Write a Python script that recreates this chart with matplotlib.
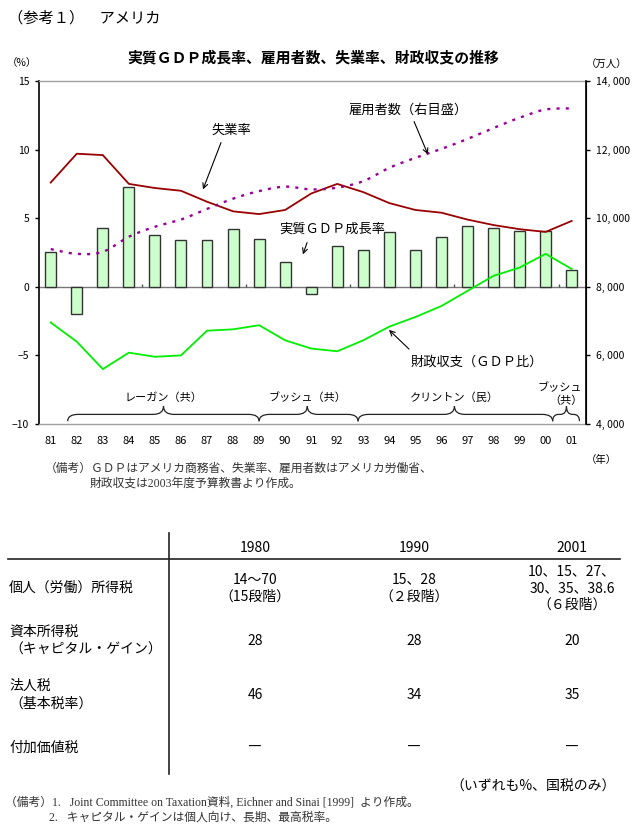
import numpy as np
import matplotlib
matplotlib.use('Agg')
import matplotlib.pyplot as plt
from matplotlib.lines import Line2D
from matplotlib.path import Path
from matplotlib.patches import PathPatch
from matplotlib.ticker import FuncFormatter

plt.rcParams['font.family'] = ['Noto Sans CJK JP', 'DejaVu Sans']

# ---------------- data ----------------
years = ['81', '82', '83', '84', '85', '86', '87', '88', '89', '90', '91',
         '92', '93', '94', '95', '96', '97', '98', '99', '00', '01']
gdp_growth = [2.5, -2.0, 4.3, 7.3, 3.8, 3.4, 3.4, 4.2, 3.5, 1.8, -0.5,
              3.0, 2.7, 4.0, 2.7, 3.6, 4.4, 4.3, 4.1, 4.1, 1.2]
unemployment = [7.6, 9.7, 9.6, 7.5, 7.2, 7.0, 6.2, 5.5, 5.3, 5.6, 6.8,
                7.5, 6.9, 6.1, 5.6, 5.4, 4.9, 4.5, 4.2, 4.0, 4.8]
fiscal_balance = [-2.6, -4.0, -6.0, -4.8, -5.1, -5.0, -3.2, -3.1, -2.8, -3.9, -4.5,
                  -4.7, -3.9, -2.9, -2.2, -1.4, -0.3, 0.8, 1.4, 2.4, 1.3]
employment = [9100, 8960, 9020, 9460, 9750, 9960, 10270, 10570, 10790, 10920, 10840,
              10890, 11080, 11470, 11760, 12020, 12310, 12630, 12930, 13170, 13200]

left_ticks = [-10, -5, 0, 5, 10, 15]
right_ticks = [4000, 6000, 8000, 10000, 12000, 14000]

presidents = ['レーガン（共）', 'ブッシュ（共）', 'クリントン（民）', 'ブッシュ\n（共）']
pres_start = [0.65, 8.0, 11.8, 19.27]
pres_end = [8.0, 11.8, 19.27, 20.3]
pres_tip = [4.33, 9.85, 15.5, 19.8]

table_cols = ['1980', '1990', '2001']
table_rows = ['個人（労働）所得税', '資本所得税\n（キャピタル・ゲイン）', '法人税\n（基本税率）', '付加価値税']
table_vals = [
    ['14～70\n（15段階）', '15、28\n（２段階）', '10、15、27、\n30、35、38.6\n（６段階）'],
    ['28', '28', '20'],
    ['46', '34', '35'],
    ['―', '―', '―'],
]

# ---------------- figure ----------------
W, H = 637, 831
fig = plt.figure(figsize=(W / 100, H / 100), dpi=100)


def fx(px):
    return px / W


def fy(py):
    return 1 - py / H


ax = fig.add_axes([fx(39), fy(424), (586 - 39) / W, (424 - 81) / H])
x = np.arange(len(years))

ax.bar(x, gdp_growth, width=0.42, color='#CCFFCC', edgecolor='#333333',
       linewidth=1.0, zorder=3)
ax.axhline(0, color='#777777', lw=1.0, zorder=2)
ax.vlines([3.5, 7.5, 11.5, 15.5, 19.5], 0, 0.22, color='#555555', lw=1.0, zorder=2)
ax.plot(x, unemployment, color='#990000', lw=1.3, zorder=4)
ax.plot(x, fiscal_balance, color='#00EE00', lw=1.3, zorder=4)

ax.set_xlim(-0.45, 20.55)
ax.set_ylim(-10, 15)
ax.set_yticks(left_ticks)
ax.set_xticks(x)
ax.set_xticklabels(years)
ax.tick_params(axis='x', length=0, pad=9, labelsize=8)
ax.tick_params(axis='y', direction='out', length=3, width=1, pad=4, labelsize=7.5)
for s in ['top', 'bottom']:
    ax.spines[s].set_color('#A0A0A0')
    ax.spines[s].set_linewidth(1.0)
ax.spines['left'].set_linewidth(1.2)

# braces for presidents
def brace_path(xa, xb, xt, yb=-9.8, yl=-9.3, yt=-8.7):
    r = min(0.4, (xb - xa) / 4.5)
    verts = [(xa, yb), (xa, yl), (xa + r, yl),
             (xt - r, yl),
             (xt, yl), (xt, yt),
             (xt, yl), (xt + r, yl),
             (xb - r, yl),
             (xb, yl), (xb, yb)]
    codes = [Path.MOVETO, Path.CURVE3, Path.CURVE3,
             Path.LINETO,
             Path.CURVE3, Path.CURVE3,
             Path.CURVE3, Path.CURVE3,
             Path.LINETO,
             Path.CURVE3, Path.CURVE3]
    return Path(verts, codes)


for name, xa, xb, xt in zip(presidents, pres_start, pres_end, pres_tip):
    ax.add_patch(PathPatch(brace_path(xa, xb, xt), facecolor='none',
                           edgecolor='#222222', lw=0.9, zorder=5))
    if '\n' in name:
        ax.text(xt - 0.25, -7.35, name.split('\n')[0], ha='center', va='center', fontsize=8)
        ax.text(xt, -8.3, name.split('\n')[1], ha='center', va='center', fontsize=8)
    else:
        ax.text(xt, -8.1, name, ha='center', va='center', fontsize=8)

# right axis: employment (smoothed like the original)
ax2 = ax.twinx()
ax2.set_ylim(4000, 14000)
ax2.set_yticks(right_ticks)
ax2.yaxis.set_major_formatter(FuncFormatter(lambda v, p: f"{int(v) // 1000}, {int(v) % 1000:03d}"))
ax2.tick_params(axis='y', direction='out', length=3, width=1, pad=4, labelsize=7.5)
ax2.spines['right'].set_linewidth(1.2)
for s in ['top', 'bottom', 'left']:
    ax2.spines[s].set_visible(False)

pts = np.column_stack([x, np.array(employment, float)])
ext = np.vstack([pts[0], pts, pts[-1]])
curve = []
for i in range(len(pts) - 1):
    p0, p1, p2, p3 = ext[i], ext[i + 1], ext[i + 2], ext[i + 3]
    c1 = p1 + (p2 - p0) / 6.0
    c2 = p2 - (p3 - p1) / 6.0
    t = np.linspace(0, 1, 20)[:, None]
    seg = ((1 - t) ** 3) * p1 + 3 * ((1 - t) ** 2) * t * c1 + 3 * (1 - t) * t ** 2 * c2 + t ** 3 * p2
    curve.append(seg if i == 0 else seg[1:])
curve = np.vstack(curve)
ax2.plot(curve[:, 0], curve[:, 1], color='#990099', lw=1.7,
         linestyle=(0, (1.3, 2.6)), dash_capstyle='butt', zorder=4)

# ---------------- texts around chart ----------------
fig.text(fx(8), fy(18), '（参考１）　アメリカ', ha='left', va='center', fontsize=11)
fig.text(fx(313), fy(57), '実質ＧＤＰ成長率、雇用者数、失業率、財政収支の推移',
         ha='center', va='center', fontsize=10.7, fontweight='bold')
fig.text(fx(22), fy(63), '（%）', ha='center', va='center', fontsize=7.5)
fig.text(fx(607), fy(65), '（万人）', ha='center', va='center', fontsize=7.5)
fig.text(fx(601), fy(460), '（年）', ha='center', va='center', fontsize=7.5)


def fig_annot(text, tx, ty, ax0, ay0, ax1, ay1):
    fig.text(fx(tx), fy(ty), text, ha='center', va='center', fontsize=9.5)
    fig.add_artist(matplotlib.patches.FancyArrowPatch(
        (fx(ax0), fy(ay0)), (fx(ax1), fy(ay1)), transform=fig.transFigure,
        arrowstyle='->', mutation_scale=9, lw=0.8, color='black'))


fig_annot('雇用者数（右目盛）', 408, 110, 413, 119, 429, 157)
fig_annot('失業率', 231, 130, 222, 140, 202, 192)
fig_annot('実質ＧＤＰ成長率', 332, 229, 308, 240, 302, 257)
fig_annot('財政収支（ＧＤＰ比）', 477, 362, 411, 351, 387, 328)

serif = ['Liberation Serif', 'Noto Sans CJK JP']
fig.text(fx(45), fy(469), '（備考）ＧＤＰはアメリカ商務省、失業率、雇用者数はアメリカ労働省、',
         ha='left', va='center', fontsize=8.5, color='#333333', family=serif)
fig.text(fx(90), fy(484), '財政収支は2003年度予算教書より作成。',
         ha='left', va='center', fontsize=8.5, color='#333333', family=serif)

# ---------------- table ----------------
fig.add_artist(Line2D([fx(8), fx(620)], [fy(559), fy(559)], color='#222222', lw=1.2,
                      transform=fig.transFigure))
fig.add_artist(Line2D([fx(169), fx(169)], [fy(533), fy(774)], color='#222222', lw=1.2,
                      transform=fig.transFigure))

col_x = [255, 414, 572]
for cx, c in zip(col_x, table_cols):
    fig.text(fx(cx), fy(548), c, ha='center', va='center', fontsize=10)

row_y = [588, 641, 695, 748]
for ry, rname, vals in zip(row_y, table_rows, table_vals):
    fig.text(fx(9), fy(ry), rname, ha='left', va='center', fontsize=10, linespacing=1.35)
    for cx, v in zip(col_x, vals):
        fig.text(fx(cx), fy(ry), v, ha='center', va='center', fontsize=10,
                 linespacing=1.25, multialignment='center')

fig.text(fx(616), fy(787), '（いずれも%、国税のみ）', ha='right', va='center', fontsize=10)
fig.text(fx(5), fy(803), '（備考）1.   Joint Committee on Taxation資料, Eichner and Sinai [1999]  より作成。',
         ha='left', va='center', fontsize=8.5, color='#333333', family=serif)
fig.text(fx(49), fy(818), '2.   キャピタル・ゲインは個人向け、長期、最高税率。',
         ha='left', va='center', fontsize=8.5, color='#333333', family=serif)

fig.savefig('out.png', dpi=100)
